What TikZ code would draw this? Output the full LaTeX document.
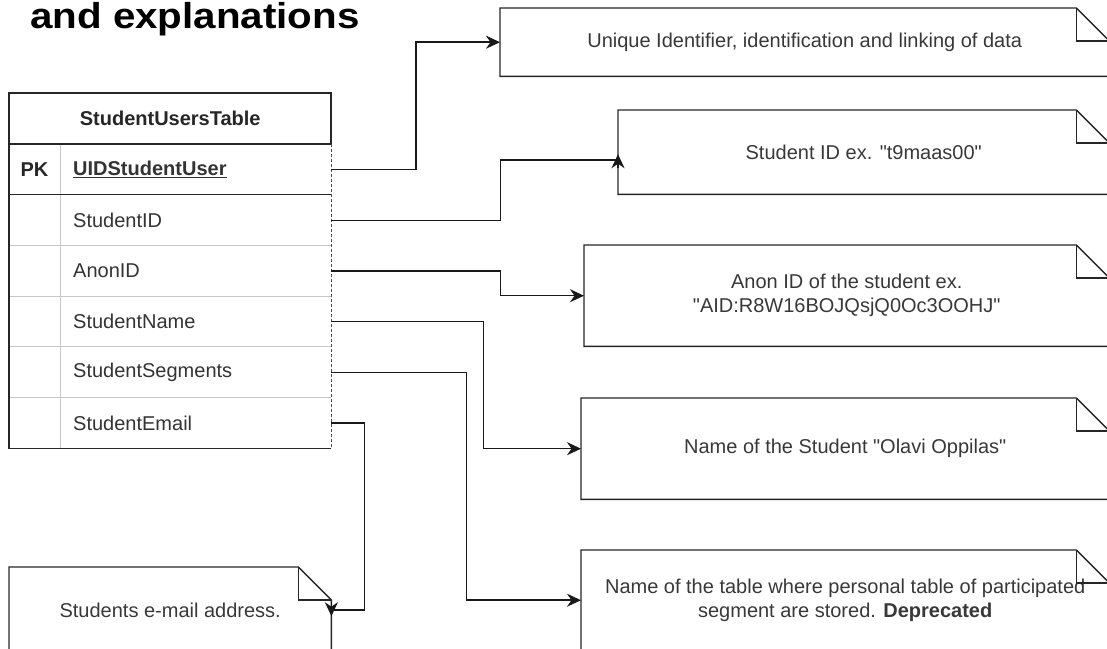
\documentclass[tikz,border=0pt]{standalone}
\usepackage{fontspec}
\setmainfont{Liberation Sans}[Ligatures=TeXOff]
\usetikzlibrary{arrows.meta,calc}
\newcommand\drawnoteshape[1]{%
  \draw[border, line join=miter] (#1.north west) -- ([xshift=-33pt]#1.north east) -- ([yshift=-33pt]#1.north east) -- (#1.south east) -- (#1.south west) -- cycle;
  \draw[border, line join=miter] ([xshift=-33pt]#1.north east) -- ([xshift=-33pt,yshift=-33pt]#1.north east) -- ([yshift=-33pt]#1.north east);}
\begin{document}
\begin{tikzpicture}[x=1pt,y=-1pt,
  font=\fontsize{20}{24}\selectfont,
  border/.style={draw=black!85, line width=1.4pt},
  sepline/.style={draw=black!22, line width=1pt},
  dashedge/.style={draw=black!70, line width=1pt, dash pattern=on 3pt off 2pt},
  conn/.style={draw=black!90, line width=1.5pt},
  arr/.style={-{Stealth[length=14pt,width=13pt,inset=4.5pt]}},
  notebox/.style={anchor=north west, inner sep=0pt, align=center, text=black!78},
  rowbox/.style={anchor=north west, minimum width=271pt, minimum height=50.7pt, inner xsep=13pt, inner ysep=0pt, text width=245pt, align=left, text=black!80},
]
\useasboundingbox (0,0) rectangle (1107,648);
\clip (0,0) rectangle (1107,648);

% title
\node[anchor=base west, inner sep=0pt, font=\fontsize{36}{40}\selectfont\bfseries] (title) at (30,28) {\scalebox{1.12}[1]{and explanations}};

% table
\node[anchor=north west, inner sep=0pt, minimum width=322pt, minimum height=51pt, font=\fontsize{20}{24}\selectfont\bfseries, text=black!85] (hdr) at (9,93) {StudentUsersTable};
\node[font=\fontsize{20}{24}\selectfont\bfseries, text=black!85, inner sep=0pt] (pk) at (34.5,169.35) {PK};
\node[rowbox, font=\fontsize{20}{24}\selectfont\bfseries] (uid) at (60,144) {\underline{UIDStudentUser}};
\node[rowbox] (sid) at (60,194.7) {StudentID};
\node[rowbox] (anon) at (60,245.4) {AnonID};
\node[rowbox] (sname) at (60,296.1) {StudentName};
\node[rowbox] (sseg) at (60,346.8) {StudentSegments};
\node[rowbox] (semail) at (60,397.5) {StudentEmail};

\draw[sepline] (9,245.4) -- (331,245.4);
\draw[sepline] (9,296.1) -- (331,296.1);
\draw[sepline] (9,346.8) -- (331,346.8);
\draw[sepline] (9,397.5) -- (331,397.5);
\draw[sepline] (60,144) -- (60,448.2);
\draw[border] (9,144) -- (331,144);
\draw[border] (9,194.7) -- (331,194.7);
\draw[dashedge] (331,144) -- (331,448.2);
\draw[border, line join=miter] (331,144) -- (331,93) -- (9,93) -- (9,448.2) -- (331,448.2);

% notes
\node[notebox, minimum width=609pt, minimum height=68pt] (n1) at (500,8) {Unique Identifier, identification and linking of data};
\node[notebox, minimum width=491pt, minimum height=84pt] (n2) at (618,110) {Student ID ex. "t9maas00"};
\node[notebox, minimum width=525pt, minimum height=101pt] (n3) at (584,245) {Anon ID of the student ex.\\"AID:R8W16BOJQsjQ0Oc3OOHJ"};
\node[notebox, minimum width=528pt, minimum height=101pt] (n4) at (581,398) {Name of the Student "Olavi Oppilas"};
\node[notebox, minimum width=528pt, minimum height=100pt] (n5) at (581,550) {Name of the table where personal table of participated\\segment are stored. \textbf{Deprecated}};
\node[notebox, minimum width=322pt, minimum height=86pt] (n6) at (9,567) {Students e-mail address.};
\drawnoteshape{n1}
\drawnoteshape{n2}
\drawnoteshape{n3}
\drawnoteshape{n4}
\drawnoteshape{n5}
\drawnoteshape{n6}

% connectors
\draw[conn, arr] (uid.east) -- ++(84.7,0) |- (n1.west);
\draw[conn] (sid.east) -- ++(169,0) |- ([yshift=-8pt]n2.west);
\draw[conn, arr] ([yshift=-16pt]n2.west) -- ([yshift=-2pt]n2.west);
\draw[conn, arr] (anon.east) -- ++(169,0) |- (n3.west);
\draw[conn, arr] (sname.east) -- ++(152.3,0) |- (n4.west);
\draw[conn, arr] (sseg.east) -- ++(135,0) |- (n5.west);
\draw[conn] (semail.east) -- ++(33.3,0) |- (n6.east);
\draw[conn, arr] ([yshift=8pt]n6.east) -- ([yshift=-6pt]n6.east);
\end{tikzpicture}
\end{document}
